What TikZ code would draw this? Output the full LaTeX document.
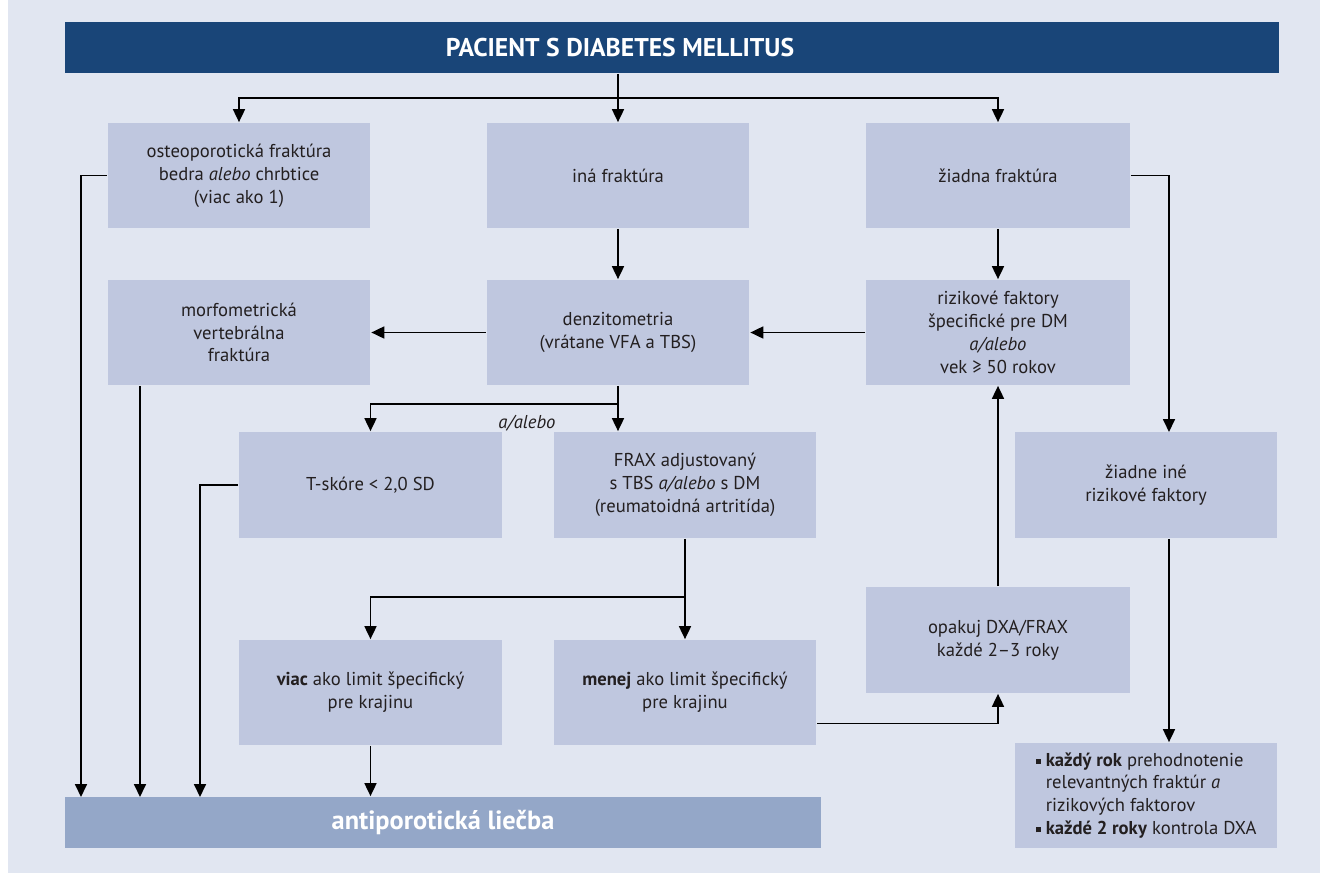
\documentclass[tikz,border=0pt]{standalone}
\usepackage{fontspec}
\setmainfont{PT Sans}
\usetikzlibrary{arrows.meta}
\definecolor{bgc}{RGB}{225,230,241}
\definecolor{boxc}{RGB}{191,199,223}
\definecolor{headc}{RGB}{25,69,120}
\definecolor{barc}{RGB}{148,167,200}
\definecolor{txtc}{RGB}{35,31,32}
\newcommand{\sqb}{\raisebox{0.25ex}{\rule{0.28em}{0.28em}}}

\begin{document}
\begin{tikzpicture}
	[x=0.02cm,y=-0.02cm,line width=1pt,>={Triangle[length=0.26cm,width=0.24cm]},
	every node/.style={rectangle, fill=boxc, text=txtc, inner sep=0pt, minimum width=5.26cm, minimum height=2.1cm, align=center, font=\fontsize{10.6}{13}\selectfont}]
	\useasboundingbox (0,0) rectangle (1320,873);
	\fill[bgc] (8,0) rectangle (1320,873);
	
	\node[fill=headc, text=white, minimum width=24.28cm, minimum height=1.02cm, font=\fontsize{14.6}{16}\selectfont\bfseries] (head) at (672,47.5) {PACIENT S DIABETES MELLITUS\hspace*{2.08cm}};
	\node (osteo) at (239,175.5) {osteoporotická fraktúra\\bedra \textit{alebo} chrbtice\\(viac ako 1)};
	\node (ina) at (618,175.5) {iná fraktúra};
	\node[minimum width=5.28cm] (ziadna) at (998,175.5) {žiadna fraktúra};
	\node (morf) at (239,332.5) {morfometrická\\vertebrálna\\fraktúra};
	\node (denz) at (618,332.5) {denzitometria\\(vrátane VFA a TBS)};
	\node[minimum width=5.28cm] (rizik) at (998,332.5) {rizikové faktory\\špecifické pre DM\\\textit{a/alebo}\\vek ≥ 50 rokov};
	\node[minimum height=2.12cm] (tskore) at (370.5,485) {T-skóre < 2,0 SD};
	\node[minimum height=2.12cm] (frax) at (685,485) {FRAX adjustovaný\\s TBS \textit{a/alebo} s DM\\(reumatoidná artritída)};
	\node[minimum height=2.12cm] (ziadneine) at (1146,485) {žiadne iné\\rizikové faktory};
	\node[minimum width=5.28cm, minimum height=2.12cm] (opakuj) at (998,640) {opakuj DXA/FRAX\\každé 2–3 roky};
	\node (viac) at (370.5,692.5) {\textbf{viac} ako limit špecifický\\pre krajinu};
	\node (menej) at (685,692.5) {\textbf{menej} ako limit špecifický\\pre krajinu};
	\node[align=left] (kazdy) at (1146,795.5) {\sqb\ \textbf{každý rok} prehodnotenie\\\hphantom{\sqb\ }relevantných fraktúr \textit{a}\\\hphantom{\sqb\ }rizikových faktorov\\\sqb\ \textbf{každé 2 roky} kontrola DXA};
	\node[fill=barc, text=white, minimum width=15.12cm, minimum height=1.02cm, font=\fontsize{15}{17}\selectfont\bfseries] (liecba) at (443,822.5) {antiporotická liečba};
	\node[fill=none, minimum width=0pt, minimum height=0pt, font=\fontsize{10.6}{13}\selectfont\itshape] (alebo) at (527,423) {a/alebo};
	
	\coordinate (s1) at (618,98);
	\coordinate (s2) at (618,404);
	\coordinate (s3) at (685,597);
	\coordinate (l1) at (81,797);
	\coordinate (l2) at (140,797);
	\coordinate (l3) at (200,797);
	\coordinate (r1) at (1169,432);
	
	\draw (head.south -| s1) -- (s1);
	\draw[->] (s1) -| (osteo.north);
	\draw[->] (s1) -- (ina.north);
	\draw[->] (s1) -| (ziadna.north);
	\draw[->] (ina.south) -- (denz.north);
	\draw[->] (ziadna.south) -- (rizik.north);
	\draw[->] (rizik.west) -- (denz.east);
	\draw[->] (denz.west) -- (morf.east);
	\draw (denz.south) -- (s2);
	\draw[->] (s2) -| (tskore.north);
	\draw[->] (s2) -- (s2 |- frax.north);
	\draw[->] (ziadna.east) -| (r1);
	\draw[->] (r1 |- ziadneine.south) -- (r1 |- kazdy.north);
	\draw[->] (frax.south) -- (menej.north);
	\draw[->] (s3) -| (viac.north);
	\draw[->] ([yshift=-0.62cm]menej.east) -| (opakuj.south);
	\draw[->] (opakuj.north) -- (rizik.south);
	\draw[->] (viac.south) -- (viac.south |- liecba.north);
	\draw[->] (osteo.west) -| (l1);
	\draw[->] (l2 |- morf.south) -- (l2);
	\draw[->] (tskore.west) -| (l3);
\end{tikzpicture}
\end{document}
